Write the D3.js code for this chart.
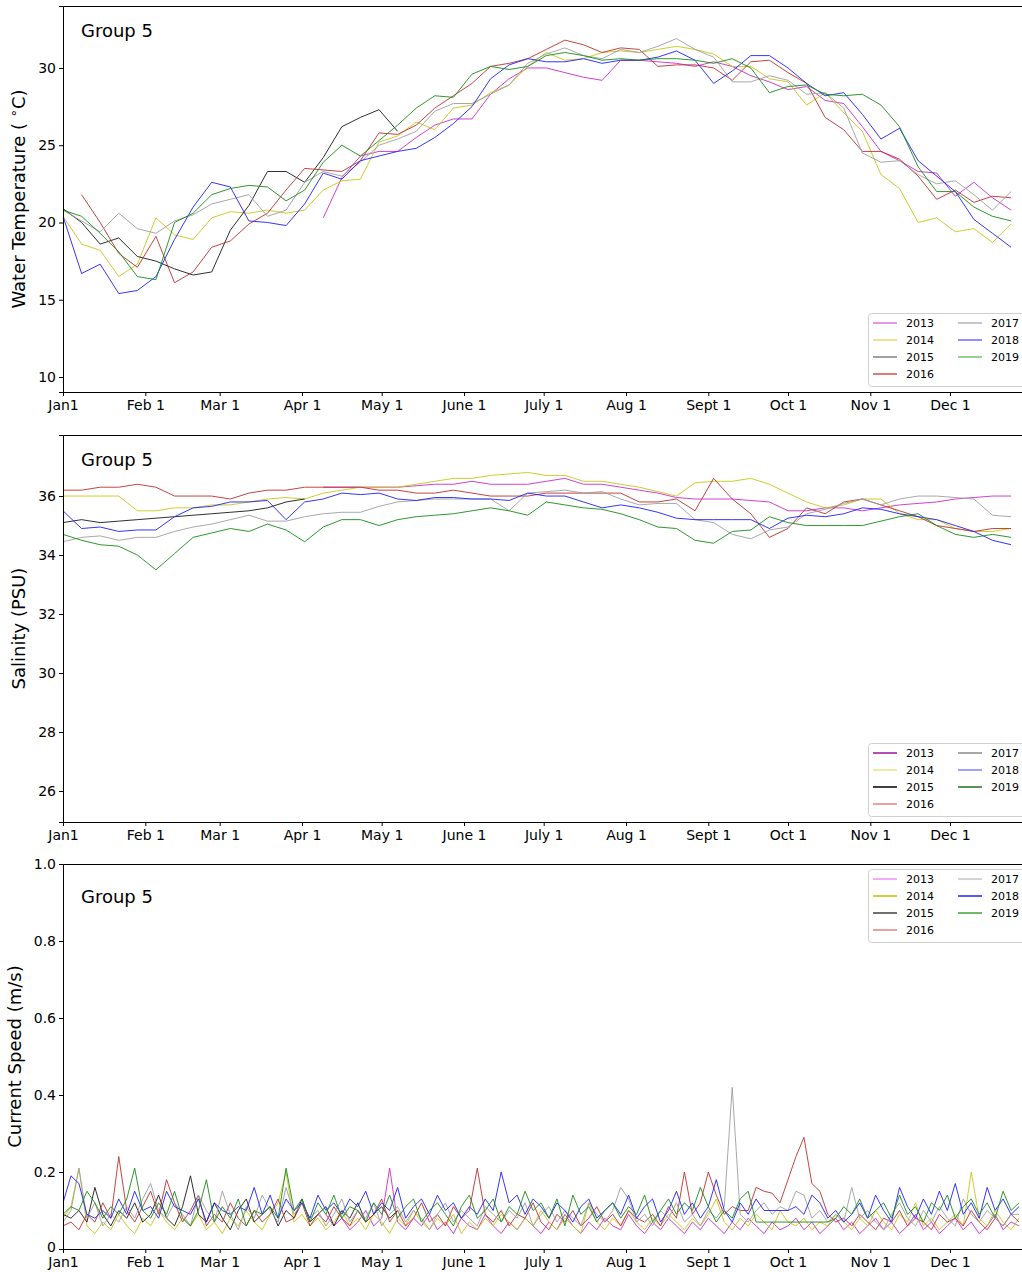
<!DOCTYPE html>
<html><head><meta charset="utf-8">
<script src="https://cdn.jsdelivr.net/npm/d3@7"></script>
<style>body{margin:0;background:#fff}svg{display:block}text{font-family:"DejaVu Sans",sans-serif}</style>
</head><body><svg id="chart" width="1022" height="1272"></svg>
<script>
// ---------------- data ----------------
const years = ["2013","2014","2015","2016","2017","2018","2019"];
const monthTickDays = [0,31,59,90,120,151,181,212,243,273,304,334];
const monthTickLabels = ["Jan1","Feb 1","Mar 1","Apr 1","May 1","June 1","July 1","Aug 1","Sept 1","Oct 1","Nov 1","Dec 1"];

const tempTicks = [10,15,20,25,30];
const tempTickLabels = ["10","15","20","25","30"];
const salTicks = [26,28,30,32,34,36];
const salTickLabels = ["26","28","30","32","34","36"];
const curTicks = [0,0.2,0.4,0.6,0.8,1.0];
const curTickLabels = ["0","0.2","0.4","0.6","0.8","1.0"];

const weekDays = [0,7,14,21,28,35,42,49,56,63,70,77,84,91,98,105,112,119,126,133,140,147,154,161,168,175,182,189,196,203,210,217,224,231,238,245,252,259,266,273,280,287,294,301,308,315,322,329,336,343,350,357];
const currentDays = [0,3,6,9,12,15,18,21,24,27,
30,33,36,39,42,45,48,51,54,57,
60,63,66,69,72,75,78,81,84,87,
90,93,96,99,102,105,108,111,114,117,
120,123,126,129,132,135,138,141,144,147,
150,153,156,159,162,165,168,171,174,177,
180,183,186,189,192,195,198,201,204,207,
210,213,216,219,222,225,228,231,234,237,
240,243,246,249,252,255,258,261,264,267,
270,273,276,279,282,285,288,291,294,297,
300,303,306,309,312,315,318,321,324,327,
330,333,336,339,342,345,348,351,354,357,
360];

// Water temperature (weekly)
const temp2013 = [null,null,null,null,null,null,null,null,null,null,null,null,null,null,
20.3,22.9,24.3,24.6,24.6,25.5,26.3,26.7,26.7,28.3,29.3,30.0,30.0,29.7,29.4,29.2,30.5,30.5,30.4,30.3,
30.1,30.4,30.1,29.5,29.1,28.6,28.8,27.9,27.7,26.2,24.6,24.0,23.3,23.2,21.7,22.6,21.6,20.8];
const temp2014 = [20.4,18.6,18.2,16.5,17.3,20.3,19.2,18.9,20.3,20.7,20.6,20.8,20.6,20.8,22.1,22.7,22.8,25.2,25.6,26.5,
26.0,27.4,27.6,28.4,28.9,30.1,31.0,30.5,30.6,31.0,31.1,31.0,31.2,31.4,31.2,30.9,30.1,30.1,29.3,29.1,
27.6,28.4,27.1,25.9,23.1,22.2,20.0,20.3,19.4,19.6,18.7,19.9];
const temp2015 = [20.9,20.0,18.6,19.0,17.8,17.5,17.0,16.6,16.8,19.5,21.1,23.3,23.3,22.6,24.2,26.2,26.8,27.3,25.9,
null,null,null,null,null,null,null,null,null,null,null,null,null,null,null,null,null,null,null,null,null,null,null,null,null,null,null,null,null,null,null,null,null];
const temp2016 = [null,21.8,20.0,18.0,17.1,19.1,16.1,16.8,18.4,18.8,19.9,20.6,22.1,23.5,23.4,23.3,24.0,25.8,25.7,26.3,
27.4,28.2,29.0,30.1,30.3,30.6,31.2,31.8,31.5,31.0,31.3,31.2,30.1,30.2,30.2,30.0,29.2,30.4,30.5,29.7,
29.0,26.8,26.0,24.6,24.6,24.1,23.0,21.5,22.1,21.3,21.7,21.6];
const temp2017 = [20.8,20.1,19.4,20.6,19.6,19.3,20.1,20.5,21.2,21.5,21.8,20.4,20.8,22.6,23.3,23.0,23.9,25.0,25.4,25.9,
27.2,27.7,27.7,28.3,28.9,30.3,30.9,31.3,30.8,30.6,31.2,31.0,31.4,31.9,31.2,30.7,29.1,29.1,29.5,29.2,
28.3,28.4,27.4,24.5,23.9,24.0,23.1,22.5,22.7,21.8,20.8,22.0];
const temp2018 = [20.4,16.7,17.3,15.4,15.6,16.5,18.9,21.0,22.6,22.3,20.1,20.0,19.8,21.2,23.2,22.8,24.0,24.3,24.6,24.8,
25.5,26.4,27.5,29.3,30.2,30.6,30.4,30.4,30.6,30.3,30.5,30.5,30.7,31.1,30.5,29.0,29.8,30.8,30.8,30.0,
29.0,28.2,28.4,27.0,25.4,26.1,24.0,23.0,22.0,20.2,19.3,18.4];
const temp2019 = [20.8,20.4,19.3,18.1,16.5,16.3,20.0,20.6,21.8,22.2,22.4,22.3,21.4,22.1,23.9,25.0,24.3,25.3,26.3,27.4,
28.2,28.1,29.6,30.1,29.9,30.1,30.8,31.0,30.8,30.5,30.6,30.5,30.6,30.6,30.5,30.3,30.6,30.0,28.4,28.8,
28.9,28.3,28.2,28.3,27.6,26.2,23.6,22.0,22.0,21.0,20.4,20.1];

// Salinity (weekly)
const sal2013 = [null,null,null,null,null,null,null,null,null,null,null,null,null,null,
36.3,36.3,36.3,36.3,36.3,36.35,36.4,36.4,36.5,36.4,36.4,36.4,36.5,36.6,36.4,36.4,36.3,36.2,36.1,35.95,
35.9,35.9,35.9,35.85,35.8,35.5,35.5,35.6,35.6,35.5,35.6,35.7,35.75,35.8,35.9,35.95,36.0,36.0];
const sal2014 = [36.0,36.0,36.0,36.0,35.5,35.5,35.6,35.6,35.7,35.7,35.8,35.9,35.95,35.9,36.1,36.2,36.3,36.3,36.3,36.4,
36.5,36.6,36.6,36.7,36.75,36.8,36.7,36.7,36.5,36.5,36.4,36.3,36.15,36.0,36.45,36.5,36.5,36.6,36.4,36.1,
35.8,35.6,35.7,35.9,35.9,35.4,35.2,35.2,34.9,34.8,34.8,34.9];
const sal2015 = [35.1,35.2,35.1,35.15,35.2,35.25,35.3,35.35,35.4,35.45,35.5,35.6,35.8,35.9,
null,null,null,null,null,null,null,null,null,null,null,null,null,null,null,null,null,null,null,null,null,null,null,null,null,null,null,null,null,null,null,null,null,null,null,null,null,null];
const sal2016 = [36.2,36.2,36.3,36.3,36.4,36.3,36.0,36.0,36.0,35.9,36.1,36.2,36.2,36.3,36.3,36.3,36.3,36.2,36.2,36.1,
36.1,36.2,36.1,36.0,36.0,36.0,36.1,36.1,36.1,36.1,36.1,35.8,35.8,35.9,35.5,36.6,35.9,35.4,34.6,34.9,
35.6,35.4,35.8,35.9,35.7,35.5,35.3,35.0,34.9,34.8,34.9,34.9];
const sal2017 = [34.45,34.6,34.65,34.5,34.6,34.6,34.8,34.95,35.05,35.2,35.35,35.15,35.15,35.3,35.4,35.45,35.45,35.65,35.8,35.85,
35.9,35.9,35.9,35.9,35.5,36.1,36.15,36.2,36.1,36.15,35.9,35.7,35.75,35.75,35.2,35.1,34.7,34.55,34.85,34.95,
35.4,35.55,35.75,35.9,35.7,35.9,36.0,36.0,35.95,35.9,35.35,35.3];
const sal2018 = [35.5,34.9,34.95,34.8,34.85,34.85,35.3,35.6,35.65,35.8,35.8,35.85,35.2,35.8,35.9,36.1,36.05,36.1,35.9,35.85,
35.95,35.95,35.9,35.9,35.85,36.1,36.0,36.0,35.8,35.6,35.7,35.6,35.45,35.25,35.2,35.2,35.2,35.2,34.9,35.25,
35.35,35.3,35.4,35.6,35.55,35.4,35.3,35.2,35.0,34.8,34.5,34.35];
const sal2019 = [34.7,34.5,34.35,34.3,34.0,33.5,34.05,34.6,34.75,34.9,34.8,35.05,34.85,34.45,34.95,35.2,35.2,35.0,35.2,35.3,
35.35,35.4,35.5,35.6,35.5,35.35,35.8,35.7,35.6,35.55,35.4,35.2,34.95,34.9,34.5,34.4,34.8,34.85,35.3,35.1,
35.0,35.0,35.0,35.0,35.15,35.3,35.4,35.0,34.7,34.6,34.7,34.6];

// Current speed (every 3 days)
const cur2013 = [null,null,null,null,null,null,null,null,null,null,
null,null,null,null,null,null,null,null,null,null,
null,null,null,null,null,null,null,null,null,null,
null,null,null,
.09,.06,.08,.05,.07,.10,.06,.08,.21,.07,
.05,.08,.06,.09,.05,.07,.04,.08,.06,.05,
.09,.06,.04,.07,.05,.08,.06,.04,.07,.05,
.09,.06,.04,.07,.05,.08,.06,.05,.09,.06,
.04,.07,.05,.08,.06,.04,.07,.05,.08,.06,
.04,.07,.05,.08,.06,.04,.07,.05,.06,.08,
.05,.07,.04,.06,.08,.05,.07,.04,.06,.08,
.05,.07,.04,.06,.09,.05,.07,.04,.06,.08,
.05,.07,.04,.06,.09,.05,.07,.06];
const cur2014 = [.08,.11,.21,.06,.04,.07,.05,.09,.06,.04,
.08,.06,.10,.07,.05,.08,.06,.09,.05,.07,
.04,.08,.06,.10,.07,.05,.09,.12,.20,.07,
.09,.06,.08,.05,.07,.10,.06,.08,.05,.09,
.07,.04,.08,.06,.10,.07,.05,.08,.06,.09,
.04,.07,.05,.08,.06,.09,.07,.05,.08,.06,
.10,.07,.05,.08,.06,.04,.12,.07,.05,.08,
.06,.10,.07,.05,.08,.06,.09,.07,.05,.08,
.06,.09,.13,.07,.05,.08,.06,.09,.07,.05,
.10,.07,.06,.08,.05,.07,.06,.09,.07,.05,
.08,.06,.10,.07,.05,.09,.07,.12,.06,.08,
.05,.07,.09,.06,.20,.08,.06,.10,.07,.05,
.08];
const cur2015 = [.09,.08,.10,.07,.16,.09,.06,.10,.08,.12,
.07,.09,.14,.08,.06,.11,.19,.09,.07,.12,
.08,.05,.10,.13,.07,.09,.11,.06,.10,.08,
.13,.07,.09,.11,.06,.10,.08,.12,.07,.09,
.11,.08,.10,
null,null,null,null,null,null,null,
null,null,null,null,null,null,null,null,null,null,
null,null,null,null,null,null,null,null,null,null,
null,null,null,null,null,null,null,null,null,null,
null,null,null,null,null,null,null,null,null,null,
null,null,null,null,null,null,null,null,null,null,
null,null,null,null,null,null,null,null,null,null,
null,null,null,null,null,null,null,null,null,null,
null];
const cur2016 = [.06,.07,.05,.09,.07,.12,.08,.24,.10,.07,
.11,.15,.09,.18,.12,.07,.10,.14,.06,.09,
.07,.12,.08,.06,.10,.07,.09,.13,.07,.08,
.12,.06,.09,.07,.11,.08,.06,.10,.07,.09,
.13,.07,.10,.06,.08,.12,.07,.09,.06,.11,
.08,.10,.21,.09,.07,.10,.06,.09,.08,.12,
.07,.05,.09,.07,.10,.06,.08,.11,.07,.09,
.06,.10,.08,.07,.09,.06,.11,.08,.20,.09,
.12,.20,.14,.09,.11,.10,.10,.16,.15,.145,
.12,.18,.24,.29,.17,.15,.09,.07,.08,.06,
.09,.07,.05,.08,.07,.10,.06,.08,.07,.05,
.09,.07,.08,.06,.10,.07,.05,.08,.06,.09,
.07];
const cur2017 = [.07,.10,.21,.08,.12,.06,.09,.07,.11,.08,
.13,.17,.10,.08,.12,.09,.06,.14,.10,.07,
.15,.09,.05,.11,.08,.14,.10,.07,.16,.09,
.12,.08,.10,.06,.09,.13,.07,.10,.08,.12,
.06,.09,.11,.07,.10,.08,.05,.09,.12,.07,
.10,.08,.06,.11,.09,.07,.10,.08,.12,.06,
.09,.11,.07,.10,.08,.06,.12,.09,.07,.10,
.16,.13,.07,.09,.06,.10,.08,.12,.07,.09,
.06,.10,.08,.11,.42,.09,.07,.10,.12,.09,
.11,.10,.15,.14,.08,.10,.07,.09,.07,.16,
.08,.10,.07,.05,.09,.12,.08,.06,.10,.07,
.11,.08,.06,.13,.09,.07,.10,.08,.06,.09,
.09];
const cur2018 = [.12,.19,.17,.09,.08,.10,.08,.13,.09,.15,
.10,.11,.08,.15,.11,.10,.09,.13,.07,.12,
.10,.09,.11,.10,.16,.09,.14,.08,.13,.10,
.12,.08,.14,.10,.12,.09,.13,.11,.15,.09,
.12,.10,.16,.08,.11,.13,.09,.14,.10,.12,
.08,.11,.09,.13,.10,.20,.12,.14,.09,.13,
.11,.08,.12,.10,.07,.11,.13,.08,.10,.12,
.09,.14,.08,.11,.13,.07,.10,.15,.09,.12,
.08,.11,.18,.10,.07,.12,.09,.13,.10,.10,
.10,.10,.11,.09,.14,.12,.08,.10,.07,.09,
.12,.08,.14,.10,.07,.16,.11,.08,.13,.09,
.15,.10,.17,.09,.12,.08,.16,.10,.13,.09,
.11];
const cur2019 = [.09,.11,.10,.15,.12,.08,.11,.09,.13,.21,
.10,.08,.12,.09,.15,.08,.06,.10,.18,.07,
.11,.08,.13,.06,.10,.09,.11,.08,.21,.10,
.13,.07,.12,.09,.14,.08,.11,.10,.07,.12,
.09,.14,.08,.11,.13,.07,.10,.12,.09,.06,
.11,.14,.08,.10,.13,.07,.11,.09,.15,.10,
.12,.08,.13,.06,.14,.09,.11,.07,.10,.12,
.08,.11,.09,.14,.07,.10,.13,.09,.12,.10,
.16,.11,.07,.10,.08,.13,.15,.07,.07,.07,
.07,.07,.07,.07,.07,.07,.07,.08,.11,.09,
.13,.08,.10,.12,.08,.14,.09,.11,.07,.12,
.10,.14,.08,.11,.13,.09,.12,.08,.15,.10,
.12];

// ---------------- styles ----------------
const lineColors = ["#cc2ccc","#c8c818","#1a1a1a","#c03030","#9e9e9e","#2020ff","#1a8c1a"];
const legendColorsTemp = ["#e070e0","#dede70","#808080","#d05050","#b4b4b4","#6a6aff","#70c070"];
const legendColorsSal  = ["#a010a0","#e6e680","#000000","#e88080","#8a8a8a","#8080ff","#207020"];
const legendColorsCur  = ["#f090f0","#c0c000","#404040","#e08080","#c4c4c4","#2020ff","#40a040"];

const svg = d3.select("#chart");
const x = d3.scaleLinear().domain([0, 363]).range([63, 1027]);

const panels = [
  {top:6, bottom:392, domain:[9.03,34.01], ticks:tempTicks, tickLabels:tempTickLabels,
   days:weekDays, series:[temp2013,temp2014,temp2015,temp2016,temp2017,temp2018,temp2019],
   legendTop:313, legendColors:legendColorsTemp, groupY:37, labelX:25, label:"temp"},
  {top:435, bottom:822, domain:[24.95,38.07], ticks:salTicks, tickLabels:salTickLabels,
   days:weekDays, series:[sal2013,sal2014,sal2015,sal2016,sal2017,sal2018,sal2019],
   legendTop:743, legendColors:legendColorsSal, groupY:466, labelX:25, label:"Salinity (PSU)"},
  {top:864, bottom:1249, domain:[0,1], ticks:curTicks, tickLabels:curTickLabels,
   days:currentDays, series:[cur2013,cur2014,cur2015,cur2016,cur2017,cur2018,cur2019],
   legendTop:869, legendColors:legendColorsCur, groupY:903, labelX:21, label:"Current Speed (m/s)"}
];

panels.forEach((p, pi) => {
  const y = d3.scaleLinear().domain(p.domain).range([p.bottom, p.top]);
  const g = svg.append("g");
  const clipId = "clip" + pi;
  svg.append("clipPath").attr("id", clipId).append("rect")
    .attr("x", 63).attr("y", p.top).attr("width", 964).attr("height", p.bottom - p.top);

  const line = d3.line().defined(d => d[1] != null).x(d => x(d[0])).y(d => y(d[1]));
  const lg = g.append("g").attr("clip-path", `url(#${clipId})`);
  p.series.forEach((vals, si) => {
    const pts = p.days.map((d, i) => [d, vals[i] === undefined ? null : vals[i]]);
    lg.append("path").datum(pts).attr("d", line)
      .attr("fill", "none").attr("stroke", lineColors[si])
      .attr("stroke-width", 1).attr("stroke-opacity", 0.9).attr("stroke-linejoin", "round");
  });

  // frame (top spine)
  g.append("line").attr("x1", 63.5).attr("x2", 1027).attr("y1", p.top + 0.5).attr("y2", p.top + 0.5)
    .attr("stroke", "#000").attr("stroke-width", 1);

  const ya = g.append("g").attr("transform", "translate(63,0)")
    .call(d3.axisLeft(y).tickValues(p.ticks).tickFormat((d, i) => p.tickLabels[i]).tickSize(4).tickPadding(3));
  const xa = g.append("g").attr("transform", `translate(0,${p.bottom})`)
    .call(d3.axisBottom(x).tickValues(monthTickDays).tickFormat((d, i) => monthTickLabels[i]).tickSize(4).tickPadding(4));
  [ya, xa].forEach(a => {
    a.attr("font-family", null).attr("font-size", null);
    a.selectAll("text").attr("font-size", 14).attr("fill", "#000");
    a.selectAll("path,line").attr("stroke", "#000");
  });
  // keep the "0" label of the bottom panel clear of the date labels
  ya.selectAll(".tick text").filter(d => d === 0 && p.domain[0] === 0).attr("dy", "0.2em");

  // Group label
  g.append("text").attr("x", 81).attr("y", p.groupY).attr("font-size", 18).text("Group 5");

  // Y label
  const cy = (p.top + p.bottom) / 2;
  const yl = g.append("text").attr("transform", `translate(${p.labelX},${cy}) rotate(-90)`)
    .attr("text-anchor", "middle").attr("font-size", 18);
  if (p.label === "temp") {
    yl.append("tspan").text("Water Temperature ( ");
    yl.append("tspan").attr("font-size", 13).attr("dy", -7).text("∘");
    yl.append("tspan").attr("dy", 7).text("C)");
  } else {
    yl.text(p.label);
  }

  // Legend
  const leg = g.append("g");
  leg.append("rect").attr("x", 868.5).attr("y", p.legendTop + 0.5).attr("width", 160).attr("height", 73)
    .attr("rx", 3).attr("fill", "#fff").attr("fill-opacity", 0.85).attr("stroke", "#d0d0d0");
  years.forEach((yr, i) => {
    const col = i < 4 ? 0 : 1;
    const row = i < 4 ? i : i - 4;
    const lx = col === 0 ? 873 : 958;
    const ly = p.legendTop + 10 + row * 17;
    leg.append("line").attr("x1", lx).attr("x2", lx + 24).attr("y1", ly).attr("y2", ly)
      .attr("stroke", p.legendColors[i]).attr("stroke-width", 1.5);
    leg.append("text").attr("x", lx + 33).attr("y", ly + 4).attr("font-size", 11).text(yr);
  });
});
</script>
</body></html>
